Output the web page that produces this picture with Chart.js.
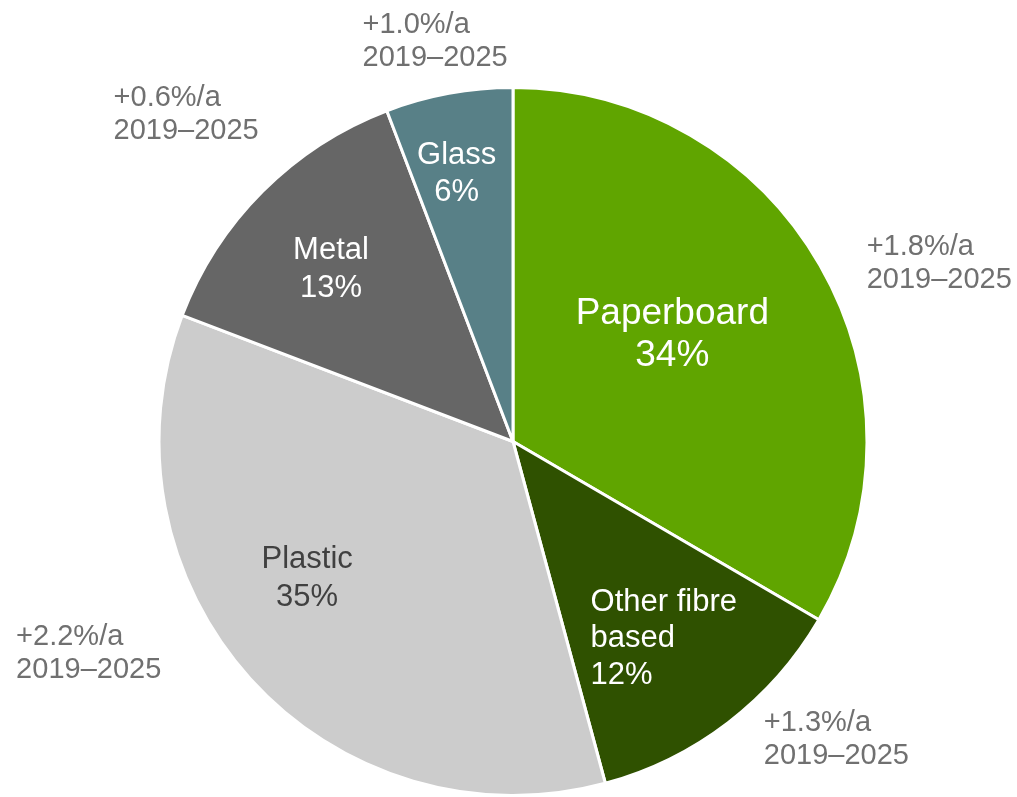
<!DOCTYPE html>
<html>
<head>
<meta charset="utf-8">
<script src="https://cdn.jsdelivr.net/npm/chart.js@4.4.0/dist/chart.umd.min.js"></script>
<style>
  html, body { margin: 0; padding: 0; background: #ffffff; }
  #wrap { width: 1017px; height: 797px; position: relative; }
</style>
</head>
<body>
<div id="wrap"><canvas id="c"></canvas></div>
<script>
// ---- data ----
const categories = ['Paperboard', 'Other fibre based', 'Plastic', 'Metal', 'Glass'];
const shares = [33.4, 12.4, 35.0, 13.4, 5.8];
const insideNames = [['Paperboard'], ['Other fibre', 'based'], ['Plastic'], ['Metal'], ['Glass']];
const pctLabels = ['34%', '12%', '35%', '13%', '6%'];
const growthLabels = ['+1.8%/a', '+1.3%/a', '+2.2%/a', '+0.6%/a', '+1.0%/a'];
const periodLabel = '2019\u20132025';

// ---- styles ----
const sliceColors = ['#60a500', '#2f5100', '#cccccc', '#666666', '#588087'];
const insideColors = ['#ffffff', '#ffffff', '#404040', '#ffffff', '#ffffff'];
const insideSizes = [37, 31, 31, 31, 31];
const insidePitch = [42, 36.5, 38, 38, 37];
const insideAlign = ['center', 'left', 'center', 'center', 'center'];
const insideK = [0.55, 0.6, 0.65, 0.7, 0.78];
const insideOff = [[-9.5, -9.3], [-51.6, 28.7], [-35.2, -17.7], [-6.8, 2.7], [-6.3, 4.3]];
const outsideOff = [[46.7, -1.5], [35.6, 17.1], [-234.3, -25.2], [-149.1, -76.2], [-86.3, -52.3]];
const outsideSize = 29, outsidePitch = 33, outsideColor = '#707070';
const FONT = '"Liberation Sans", Arial, Helvetica, sans-serif';

const labelPlugin = {
  id: 'sliceLabels',
  afterDatasetsDraw(chart) {
    const ctx = chart.ctx;
    const arcs = chart.getDatasetMeta(0).data;
    ctx.save();
    ctx.textBaseline = 'middle';
    arcs.forEach((arc, i) => {
      const p = arc.getProps(['x', 'y', 'startAngle', 'endAngle', 'outerRadius'], true);
      const mid = (p.startAngle + p.endAngle) / 2;
      // inside label
      const ix = p.x + Math.cos(mid) * p.outerRadius * insideK[i] + insideOff[i][0];
      const iy = p.y + Math.sin(mid) * p.outerRadius * insideK[i] + insideOff[i][1];
      const lines = insideNames[i].concat([pctLabels[i]]);
      ctx.font = insideSizes[i] + 'px ' + FONT;
      ctx.fillStyle = insideColors[i];
      ctx.textAlign = insideAlign[i];
      const h0 = iy - (lines.length - 1) * insidePitch[i] / 2;
      lines.forEach((t, j) => ctx.fillText(t, ix, h0 + j * insidePitch[i]));
      // outside label
      const ox = p.x + Math.cos(mid) * p.outerRadius + outsideOff[i][0];
      const oy = p.y + Math.sin(mid) * p.outerRadius + outsideOff[i][1];
      ctx.font = outsideSize + 'px ' + FONT;
      ctx.fillStyle = outsideColor;
      ctx.textAlign = 'left';
      ctx.fillText(growthLabels[i], ox, oy - outsidePitch / 2);
      ctx.fillText(periodLabel, ox, oy + outsidePitch / 2);
    });
    ctx.restore();
  }
};

new Chart(document.getElementById('c'), {
  type: 'pie',
  data: {
    labels: categories,
    datasets: [{
      data: shares,
      backgroundColor: sliceColors,
      borderColor: '#ffffff',
      borderWidth: 3,
      hoverOffset: 0
    }]
  },
  options: {
    responsive: true,
    maintainAspectRatio: false,
    animation: false,
    layout: { padding: { top: 86, bottom: 0, left: 9, right: 0 } },
    plugins: { legend: { display: false }, tooltip: { enabled: false } }
  },
  plugins: [labelPlugin]
});
</script>
</body>
</html>
